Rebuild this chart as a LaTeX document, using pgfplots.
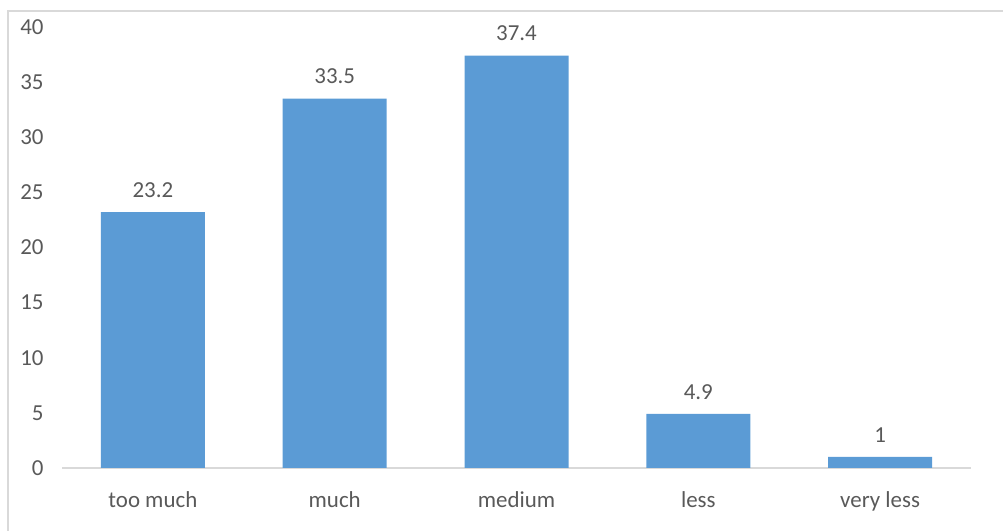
\documentclass[border=0pt]{standalone}
\usepackage{fontspec}
\setmainfont{Carlito}
\usepackage{pgfplots}
\pgfplotsset{compat=1.18}
\definecolor{barblue}{HTML}{5B9BD5}
\definecolor{txtgray}{HTML}{595959}
\definecolor{linegray}{HTML}{D9D9D9}
\begin{document}
\begin{tikzpicture}
\useasboundingbox (-62bp,-63bp) rectangle (941bp,468bp);
\draw[linegray, line width=1.2bp] (-54bp,-63bp) -- (-54bp,457bp) -- (941bp,457bp);
\begin{axis}[
  at={(0,0)}, anchor=south west,
  scale only axis, width=909bp, height=441bp,
  xmin=-0.5, xmax=4.5, ymin=0, ymax=40,
  ytick distance=5,
  xtick=data,
  xticklabels={too much, much, medium, less, very less},
  axis x line=bottom, axis y line=left,
  x axis line style={linegray, line width=1.2bp, -},
  y axis line style={draw=none},
  major tick length=0pt,
  ytick style={draw=none}, xtick style={draw=none},
  every tick label/.append style={font=\fontsize{23}{27}\selectfont, text=txtgray},
  yticklabel style={xshift=-15bp},
  xticklabel style={yshift=-20bp},
  /pgf/number format/assume math mode=true,
  ybar, bar width=104bp,
  nodes near coords,
  nodes near coords style={font=\fontsize{23}{27}\selectfont, text=txtgray, yshift=11bp,
    /pgf/number format/.cd, fixed, precision=1, assume math mode=true},
]
\addplot[fill=barblue, draw=none] coordinates {(0,23.2) (1,33.5) (2,37.4) (3,4.9) (4,1)};
\end{axis}
\end{tikzpicture}
\end{document}
